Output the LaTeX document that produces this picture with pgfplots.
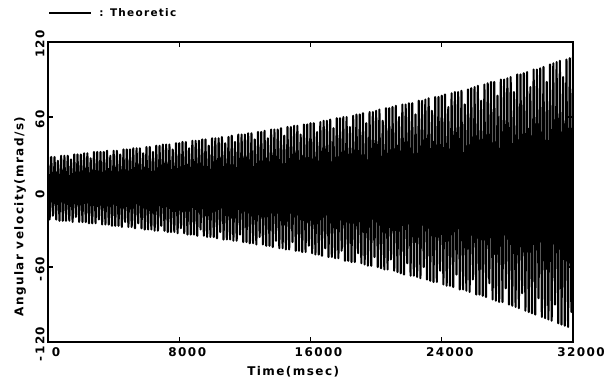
\documentclass[border=0pt]{standalone}
\usepackage{pgfplots}
\pgfplotsset{compat=1.18}
\usepackage{fontspec}
\setmainfont{DejaVu Sans}
\newfontfamily\spaced[LetterSpace=12]{DejaVu Sans}
\begin{document}
\begin{tikzpicture}
\useasboundingbox (-48bp,-41bp) rectangle (567bp,342bp);
\begin{axis}[
  scale only axis, width=525bp, height=300bp,
  xmin=0, xmax=32000, ymin=-120, ymax=120,
  scaled x ticks=false, scaled y ticks=false,
  xtick={0,8000,16000,24000,32000},
  xticklabels={0,8000,16000,24000,32000},
  ytick={-120,-60,0,60,120},
  yticklabels={-120,-60,0,60,120},
  axis line style={line width=1.6bp},
  major tick length=5bp,
  tick style={line width=1.4bp, black},
  tick label style={font=\spaced\bfseries\fontsize{12bp}{14bp}\selectfont},
  xticklabel style={xshift=8bp, yshift=-2bp},
  yticklabel style={rotate=90, anchor=south, xshift=-2bp},
  xlabel={Time(msec)},
  ylabel={Angular velocity(mrad/s)},
  label style={font=\spaced\bfseries\fontsize{12bp}{14bp}\selectfont},
  xlabel style={at={(axis description cs:0.467,-0.1)}, anchor=center},
  ylabel style={at={(axis description cs:-0.0533,0.418)}, anchor=center},
  legend style={draw=none, fill=none, at={(axis description cs:0,1.097)}, anchor=west,
    inner xsep=0pt, font=\spaced\bfseries\fontsize{10.5bp}{12bp}\selectfont},
  legend cell align=left,
  legend image code/.code={\draw[line width=2.2bp, black] (0,0) -- (42bp,0);},
]
\addplot[black, line width=2.1bp, line join=round] coordinates {
(0,28) (100,-22) (200,28) (300,-19) (400,28) (500,-22) (600,25) (700,-23) (800,29) (900,-23)
(1000,29) (1100,-23) (1200,29) (1300,-23) (1400,26) (1500,-24) (1600,30) (1700,-20) (1800,30) (1900,-24)
(2000,30) (2100,-24) (2200,31) (2300,-24) (2400,31) (2500,-25) (2600,27) (2700,-25) (2800,32) (2900,-25)
(3000,32) (3100,-22) (3200,32) (3300,-26) (3400,32) (3500,-26) (3600,33) (3700,-26) (3800,29) (3900,-27)
(4000,33) (4100,-27) (4200,33) (4300,-27) (4400,30) (4500,-28) (4600,34) (4700,-24) (4800,34) (4900,-28)
(5000,34) (5100,-28) (5200,35) (5300,-29) (5400,35) (5500,-25) (5600,35) (5700,-29) (5800,31) (5900,-30)
(6000,36) (6100,-30) (6200,36) (6300,-30) (6400,32) (6500,-31) (6600,37) (6700,-31) (6800,37) (6900,-27)
(7000,38) (7100,-31) (7200,38) (7300,-32) (7400,38) (7500,-32) (7600,34) (7700,-32) (7800,39) (7900,-33)
(8000,39) (8100,-29) (8200,40) (8300,-33) (8400,40) (8500,-34) (8600,35) (8700,-34) (8800,41) (8900,-34)
(9000,41) (9100,-35) (9200,41) (9300,-30) (9400,42) (9500,-35) (9600,42) (9700,-36) (9800,37) (9900,-36)
(10000,43) (10100,-36) (10200,43) (10300,-37) (10400,43) (10500,-32) (10600,44) (10700,-38) (10800,39) (10900,-38)
(11000,44) (11100,-38) (11200,45) (11300,-39) (11400,40) (11500,-39) (11600,46) (11700,-34) (11800,46) (11900,-40)
(12000,46) (12100,-40) (12200,47) (12300,-41) (12400,47) (12500,-41) (12600,42) (12700,-42) (12800,48) (12900,-36)
(13000,48) (13100,-42) (13200,49) (13300,-43) (13400,43) (13500,-43) (13600,50) (13700,-44) (13800,50) (13900,-39)
(14000,50) (14100,-45) (14200,51) (14300,-45) (14400,45) (14500,-46) (14600,52) (14700,-46) (14800,52) (14900,-40)
(15000,53) (15100,-47) (15200,53) (15300,-47) (15400,46) (15500,-48) (15600,54) (15700,-48) (15800,54) (15900,-43)
(16000,55) (16100,-49) (16200,55) (16300,-50) (16400,48) (16500,-50) (16600,56) (16700,-51) (16800,57) (16900,-45)
(17000,57) (17100,-52) (17200,58) (17300,-52) (17400,51) (17500,-53) (17600,59) (17700,-53) (17800,59) (17900,-47)
(18000,60) (18100,-55) (18200,60) (18300,-55) (18400,52) (18500,-56) (18600,61) (18700,-56) (18800,62) (18900,-49)
(19000,62) (19100,-57) (19200,63) (19300,-58) (19400,55) (19500,-59) (19600,64) (19700,-59) (19800,64) (19900,-52)
(20000,65) (20100,-60) (20200,66) (20300,-61) (20400,57) (20500,-62) (20600,67) (20700,-62) (20800,67) (20900,-54)
(21000,68) (21100,-63) (21200,69) (21300,-64) (21400,60) (21500,-65) (21600,70) (21700,-66) (21800,70) (21900,-57)
(22000,71) (22100,-67) (22200,71) (22300,-67) (22400,62) (22500,-68) (22600,73) (22700,-69) (22800,73) (22900,-60)
(23000,74) (23100,-70) (23200,75) (23300,-71) (23400,65) (23500,-72) (23600,76) (23700,-72) (23800,76) (23900,-63)
(24000,77) (24100,-74) (24200,78) (24300,-75) (24400,68) (24500,-75) (24600,79) (24700,-76) (24800,80) (24900,-66)
(25000,80) (25100,-78) (25200,81) (25300,-78) (25400,70) (25500,-79) (25600,82) (25700,-80) (25800,83) (25900,-70)
(26000,84) (26100,-82) (26200,85) (26300,-82) (26400,73) (26500,-83) (26600,86) (26700,-84) (26800,87) (26900,-73)
(27000,88) (27100,-86) (27200,88) (27300,-87) (27400,77) (27500,-88) (27600,90) (27700,-88) (27800,90) (27900,-77)
(28000,91) (28100,-90) (28200,92) (28300,-91) (28400,80) (28500,-92) (28600,94) (28700,-93) (28800,94) (28900,-81)
(29000,95) (29100,-95) (29200,96) (29300,-96) (29400,84) (29500,-97) (29600,98) (29700,-98) (29800,98) (29900,-85)
(30000,99) (30100,-100) (30200,100) (30300,-101) (30400,88) (30500,-102) (30600,102) (30700,-103) (30800,103) (30900,-90)
(31000,104) (31100,-105) (31200,105) (31300,-106) (31400,92) (31500,-107) (31600,106) (31700,-108) (31800,107) (31900,-96)
(32000,108)
};
\addlegendentry{\ : Theoretic}
\end{axis}
\end{tikzpicture}
\end{document}
